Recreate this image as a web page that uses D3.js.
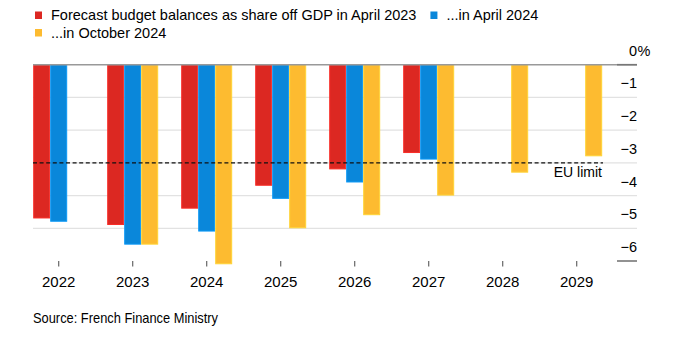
<!DOCTYPE html>
<html>
<head>
<meta charset="utf-8">
<script src="https://cdn.jsdelivr.net/npm/d3@7"></script>
<style>
  body { margin: 0; background: #fff; }
  svg { display: block; font-family: "Liberation Sans", Arial, sans-serif; }
</style>
</head>
<body>
<div id="chart"></div>
<script>
// Budget balance forecasts, % of GDP
let years = ['2022', '2023', '2024', '2025', '2026', '2027', '2028', '2029'];
let seriesKeys = ['apr2023', 'apr2024', 'oct2024'];
let seriesLabels = ['Forecast budget balances as share off GDP in April 2023', '...in April 2024', '...in October 2024'];
let apr2023 = [-4.7, -4.9, -4.4, -3.7, -3.2, -2.7, null, null];
let apr2024 = [-4.8, -5.5, -5.1, -4.1, -3.6, -2.9, null, null];
let oct2024 = [null, -5.5, -6.1, -5.0, -4.6, -4.0, -3.3, -2.8];
let yTicks = [0, -1, -2, -3, -4, -5, -6];
let euLimit = -3;

let colors = { apr2023: '#dc2822', apr2024: '#0a87da', oct2024: '#fdbb30' };
let values = { apr2023: apr2023, apr2024: apr2024, oct2024: oct2024 };

let svgwidth = 675;
let svgheight = 337;

let plotLeft = 33;
let plotRight = 637;

let svg = d3.select('#chart').append('svg')
    .attr('width', svgwidth)
    .attr('height', svgheight);

// scales
let x = d3.scaleBand()
    .domain(years)
    .range([21.7, 613.7])
    .paddingInner(0.311)
    .paddingOuter(0.1555);

let xInner = d3.scaleBand()
    .domain(seriesKeys)
    .range([0, x.bandwidth()]);

let y = d3.scaleLinear()
    .domain([0, -6])
    .range([64.7, 261]);

// gridlines
svg.append('g').selectAll('line')
    .data(yTicks.filter(d => d < 0 && d > -6))
    .enter()
    .append('line')
    .attr('x1', plotLeft)
    .attr('x2', plotRight)
    .attr('y1', d => y(d))
    .attr('y2', d => y(d))
    .attr('stroke', '#e2e2e2')
    .attr('stroke-width', 1.2);

// bars
let rows = years.map((yr, i) => ({ year: yr, i: i }));
let groups = svg.append('g').selectAll('g')
    .data(rows)
    .enter()
    .append('g')
    .attr('transform', d => `translate(${x(d.year)}, 0)`);

groups.selectAll('rect')
    .data(d => seriesKeys.map(k => ({ key: k, value: values[k][d.i] })).filter(e => e.value !== null))
    .enter()
    .append('rect')
    .attr('x', d => xInner(d.key) + 0.5)
    .attr('width', xInner.bandwidth() - 1)
    .attr('y', y(0))
    .attr('height', d => y(d.value) - y(0) - 0.5)
    .attr('fill', d => colors[d.key])
    .attr('stroke', d => d3.color(colors[d.key]).brighter(0.35))
    .attr('stroke-width', 1);

// EU limit line
svg.append('line')
    .attr('x1', plotLeft)
    .attr('x2', 603)
    .attr('y1', y(euLimit))
    .attr('y2', y(euLimit))
    .attr('stroke', '#111')
    .attr('stroke-width', 1.4)
    .attr('stroke-dasharray', '4,2.6');

svg.append('text')
    .attr('x', 602)
    .attr('y', y(euLimit) + 14)
    .attr('text-anchor', 'end')
    .attr('font-size', '14px')
    .attr('fill', '#000')
    .text('EU limit');

// zero line and right-hand end caps
svg.append('line')
    .attr('x1', plotLeft)
    .attr('x2', plotRight)
    .attr('y1', y(0))
    .attr('y2', y(0))
    .attr('stroke', '#999')
    .attr('stroke-width', 1.4);

svg.append('g').selectAll('line')
    .data([0, -6])
    .enter()
    .append('line')
    .attr('x1', 617)
    .attr('x2', plotRight)
    .attr('y1', d => y(d))
    .attr('y2', d => y(d))
    .attr('stroke', '#777')
    .attr('stroke-width', 1.6);

// y axis labels
let yAxis = svg.append('g')
    .attr('transform', `translate(${plotRight}, 0)`)
    .call(d3.axisLeft(y).tickValues(yTicks).tickSize(0).tickPadding(0).tickFormat(d3.format('d')));
yAxis.select('.domain').remove();
yAxis.selectAll('text')
    .attr('dy', -9.5)
    .attr('font-size', '14.5px')
    .attr('font-family', '"Liberation Sans", Arial, sans-serif')
    .attr('fill', '#000');
yAxis.selectAll('.tick')
    .filter(d => d === 0)
    .append('text')
    .attr('x', 0.5)
    .attr('dy', -9.5)
    .attr('text-anchor', 'start')
    .attr('font-size', '14.5px')
    .attr('font-family', '"Liberation Sans", Arial, sans-serif')
    .attr('fill', '#000')
    .text('%');

// x axis
let xAxis = svg.append('g')
    .attr('transform', `translate(0, ${y(-6)})`)
    .call(d3.axisBottom(x).tickSize(5.5).tickPadding(0));
xAxis.select('.domain').remove();
xAxis.selectAll('.tick line')
    .attr('stroke', '#666')
    .attr('stroke-width', 1.2);
xAxis.selectAll('text')
    .attr('y', 25.7)
    .attr('dy', 0)
    .attr('font-size', '15px')
    .attr('font-family', '"Liberation Sans", Arial, sans-serif')
    .attr('fill', '#000');

// legend
let legend = svg.append('g').attr('font-size', '14.5px').attr('fill', '#000');
function legendItem(key, label, lx, ly) {
    legend.append('rect')
        .attr('x', lx)
        .attr('y', ly - 8.5)
        .attr('width', 7)
        .attr('height', 7.5)
        .attr('fill', colors[key]);
    return legend.append('text')
        .attr('x', lx + 16)
        .attr('y', ly)
        .text(label);
}
let first = legendItem('apr2023', seriesLabels[0], 35, 20);
let firstEnd = 51 + first.node().getComputedTextLength();
legendItem('apr2024', seriesLabels[1], firstEnd + 14, 20);
legendItem('oct2024', seriesLabels[2], 35, 37.5);

// source line, condensed to fit
svg.append('text')
    .attr('x', 33)
    .attr('y', 323.3)
    .attr('font-size', '15px')
    .attr('textLength', 185)
    .attr('lengthAdjust', 'spacingAndGlyphs')
    .attr('fill', '#000')
    .text('Source: French Finance Ministry');
</script>
</body>
</html>
